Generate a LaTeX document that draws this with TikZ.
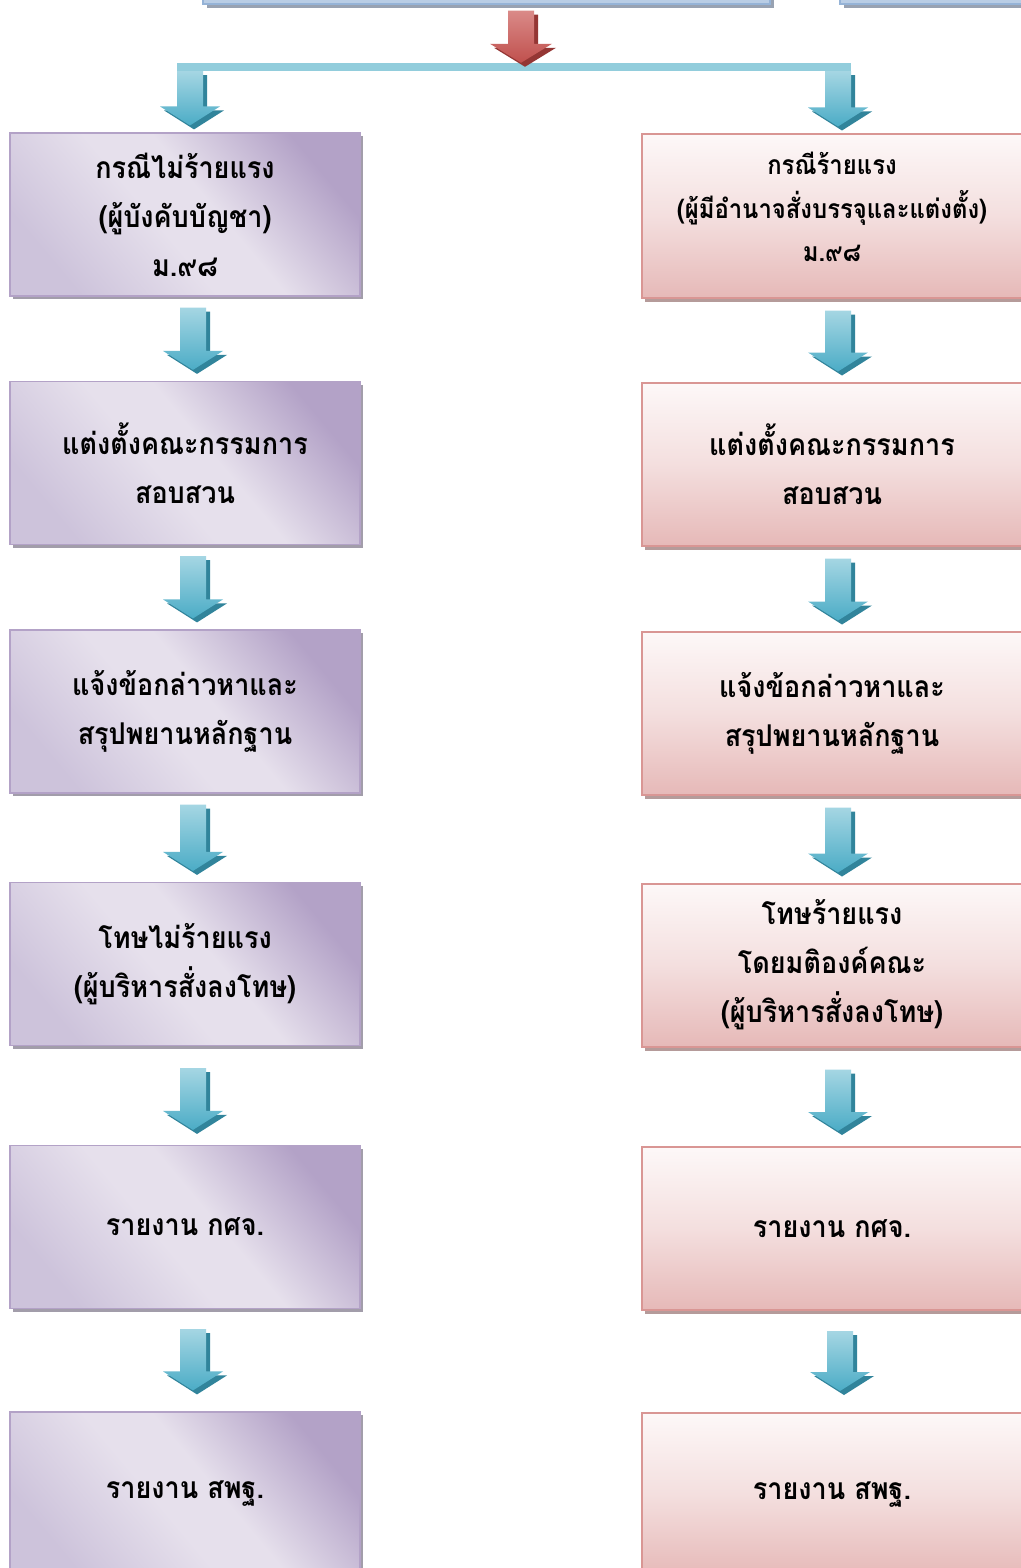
\documentclass[tikz,border=0pt]{standalone}
\usepackage{fontspec}
\newfontfamily\thaifont[Script=Thai, FakeStretch=0.9]{Loma}
\usetikzlibrary{calc,shadows}
\definecolor{purpLight}{HTML}{E6E0EC}
\definecolor{purpMid}{HTML}{CDC3DB}
\definecolor{purpDark}{HTML}{B3A2C7}
\definecolor{purpShadow}{HTML}{A29DAA}
\definecolor{pinkTop}{HTML}{FDF8F8}
\definecolor{pinkBot}{HTML}{E6B9B8}
\definecolor{pinkBorder}{HTML}{D99694}
\definecolor{pinkShadow}{HTML}{B59B9A}
\definecolor{arrLight}{HTML}{A5D6E3}
\definecolor{arrMid}{HTML}{4BACC6}
\definecolor{arrShadow}{HTML}{31849B}
\definecolor{barColor}{HTML}{92CDDC}
\definecolor{redL}{HTML}{DA8A88}
\definecolor{redM}{HTML}{C0504D}
\definecolor{redS}{HTML}{943634}
\definecolor{topFill}{HTML}{B9CDE5}
\definecolor{topBorder}{HTML}{95B3D7}
\definecolor{topShadow}{HTML}{98A2B2}
\pgfdeclarehorizontalshading{purpshade}{100bp}{color(0bp)=(purpMid); color(25bp)=(purpMid); color(45bp)=(purpLight); color(55bp)=(purpLight); color(75bp)=(purpDark); color(100bp)=(purpDark)}
\tikzset{
  boxtext/.style={font=\thaifont\bfseries\fontsize{30}{49}\selectfont, align=center, text=black},
  lbox/.style={boxtext, rectangle, inner sep=0pt, minimum width=350, minimum height=163,
    draw=purpDark, line width=1.2pt, shading=purpshade, shading angle=40,
    drop shadow={shadow xshift=3pt, shadow yshift=-3pt, fill=purpShadow, opacity=1}},
  rbox/.style={boxtext, rectangle, inner sep=0pt, minimum width=380, minimum height=163,
    draw=pinkBorder, line width=2pt, top color=pinkTop, bottom color=pinkBot, middle color=pinkTop!60!pinkBot,
    drop shadow={shadow xshift=3pt, shadow yshift=-4pt, fill=pinkShadow, opacity=1}},
  topbox/.style={rectangle, inner sep=0pt, minimum height=40, draw=topBorder, line width=1.5pt, fill=topFill,
    drop shadow={shadow xshift=4pt, shadow yshift=-4pt, fill=topShadow, opacity=1}},
  bluearr/.style={top color=arrLight, bottom color=arrMid},
  bluesh/.style={fill=arrShadow},
  redarr/.style={top color=redL, bottom color=redM},
  redsh/.style={fill=redS},
}
% #1 top point, #2 tip point, #3 shaft half width, #4 head half width, #5 head length, #6 style, #7 shadow style
\newcommand\blockarr[7]{%
  \fill[#7] let \p1=#1, \p2=#2 in
    (\x2-#3pt+4pt,\y1-4pt) -- (\x2+#3pt+4pt,\y1-4pt) -- (\x2+#3pt+4pt,\y2+#5pt-4pt) -- (\x2+#4pt+4pt,\y2+#5pt-4pt)
    -- (\x2+4pt,\y2-4pt) -- (\x2-#4pt+4pt,\y2+#5pt-4pt) -- (\x2-#3pt+4pt,\y2+#5pt-4pt) -- cycle;
  \shade[#6] let \p1=#1, \p2=#2 in
    (\x2-#3pt,\y1) -- (\x2+#3pt,\y1) -- (\x2+#3pt,\y2+#5pt) -- (\x2+#4pt,\y2+#5pt)
    -- (\x2,\y2) -- (\x2-#4pt,\y2+#5pt) -- (\x2-#3pt,\y2+#5pt) -- cycle;
}
\begin{document}
\begin{tikzpicture}[x=1pt,y=-1pt]
\useasboundingbox (0,0) rectangle (1020,1568);
\fill[white] (0,0) rectangle (1020,1568);
% top partial boxes
\node[topbox, minimum width=567] (top1) at (486.5,-16) {};
\node[topbox, minimum width=200] (top2) at (940,-16) {};
% bar
\node[rectangle, inner sep=0pt, fill=barColor, minimum width=674, minimum height=8] (bar) at (514,67) {};
% left boxes
\node[lbox] (l1) at (185,214.5) {กรณีไม่ร้ายแรง\\(ผู้บังคับบัญชา)\\ม.๙๘};
\node[lbox] (l2) at (185,463) {แต่งตั้งคณะกรรมการ\\สอบสวน};
\node[lbox] (l3) at (185,711.5) {แจ้งข้อกล่าวหาและ\\สรุปพยานหลักฐาน};
\node[lbox] (l4) at (185,964) {โทษไม่ร้ายแรง\\(ผู้บริหารสั่งลงโทษ)};
\node[lbox] (l5) at (185,1227) {รายงาน กศจ.};
\node[lbox] (l6) at (185,1493.5) {รายงาน สพฐ.};
% right boxes
\node[rbox, font=\thaifont\bfseries\fontsize{26.5}{43.5}\selectfont] (r1) at (832,216) {กรณีร้ายแรง\\(ผู้มีอำนาจสั่งบรรจุและแต่งตั้ง)\\ม.๙๘\\[-26pt]\mbox{}};
\node[rbox] (r2) at (832,464) {แต่งตั้งคณะกรรมการ\\สอบสวน};
\node[rbox] (r3) at (832,713) {แจ้งข้อกล่าวหาและ\\สรุปพยานหลักฐาน};
\node[rbox] (r4) at (832,965) {โทษร้ายแรง\\โดยมติองค์คณะ\\(ผู้บริหารสั่งลงโทษ)};
\node[rbox] (r5) at (832,1228.5) {รายงาน กศจ.};
\node[rbox] (r6) at (832,1494.5) {รายงาน สพฐ.};
% red arrow
\blockarr{($(top1.south)+(34.5,6)$)}{($(bar.north)+(7,0)$)}{13}{31}{19}{redarr}{redsh}
% top blue arrows
\blockarr{($(bar.south west)+(13,0)$)}{($(l1.north)+(5,-7)$)}{13}{30}{19}{bluearr}{bluesh}
\blockarr{($(bar.south east)+(-13,0)$)}{($(r1.north)+(6,-7)$)}{13}{30}{19}{bluearr}{bluesh}
% left chain
\blockarr{($(l1.south)+(8,11)$)}{($(l2.north)+(8,-11)$)}{13}{30}{19}{bluearr}{bluesh}
\blockarr{($(l2.south)+(8,11)$)}{($(l3.north)+(8,-11)$)}{13}{30}{19}{bluearr}{bluesh}
\blockarr{($(l3.south)+(8,11)$)}{($(l4.north)+(8,-11)$)}{13}{30}{19}{bluearr}{bluesh}
\blockarr{($(l4.south)+(8,22)$)}{($(l5.north)+(8,-15)$)}{13}{30}{19}{bluearr}{bluesh}
\blockarr{($(l5.south)+(8,20)$)}{($(l6.north)+(8,-21)$)}{13}{30}{19}{bluearr}{bluesh}
% right chain
\blockarr{($(r1.south)+(6,12)$)}{($(r2.north)+(6,-10)$)}{13}{30}{19}{bluearr}{bluesh}
\blockarr{($(r2.south)+(6,12)$)}{($(r3.north)+(6,-10)$)}{13}{30}{19}{bluearr}{bluesh}
\blockarr{($(r3.south)+(6,12)$)}{($(r4.north)+(6,-10)$)}{13}{30}{19}{bluearr}{bluesh}
\blockarr{($(r4.south)+(6,22)$)}{($(r5.north)+(6,-15)$)}{13}{30}{19}{bluearr}{bluesh}
\blockarr{($(r5.south)+(8,20)$)}{($(r6.north)+(8,-21)$)}{13}{30}{19}{bluearr}{bluesh}
\end{tikzpicture}
\end{document}
